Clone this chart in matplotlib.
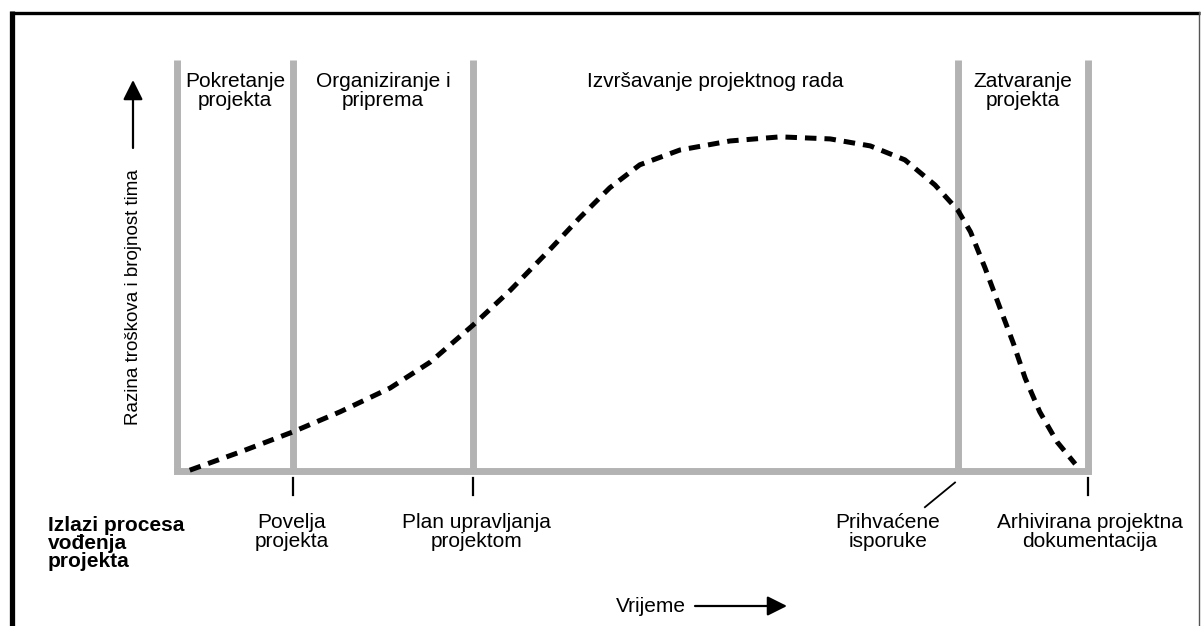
import matplotlib.pyplot as plt

# faze projekta i granice (vrijeme 0-100)
phase_names = ['Pokretanje\nprojekta', 'Organiziranje i\npriprema',
               'Izvršavanje projektnog rada', 'Zatvaranje\nprojekta']
phase_edges = [0, 12.7, 32.5, 85.7, 100]

# razina troskova i brojnost tima (ocitano sa slike)
time = [1.4, 6.9, 12.7, 17.9, 23.4, 27.8, 32.5, 36.6, 40.9, 44.2, 47.5, 50.8, 55.2,
        60.7, 66.2, 71.7, 76.1, 79.9, 83.2, 85.7, 87.1, 88.7, 90.3, 91.8, 93.1,
        94.7, 96.6, 98.6]
level = [0.2, 4.6, 9.5, 14.4, 20.2, 26.5, 35.5, 44.0, 53.8, 61.6, 68.9, 74.5, 78.1,
         80.3, 81.3, 80.8, 79.1, 75.7, 69.6, 63.5, 58.2, 49.4, 39.9, 31.1, 22.6,
         14.4, 7.1, 1.7]

# izlazi procesa
outputs = ['Povelja\nprojekta', 'Plan upravljanja\nprojektom',
           'Prihvaćene\nisporuke', 'Arhivirana projektna\ndokumentacija']
output_at = [12.7, 32.5, 85.7, 100]
output_text_x = [12.6, 32.9, 78.0, 100.2]

FONT = ['Liberation Sans', 'DejaVu Sans']
GRAY = '#b3b3b3'
W, H = 1203, 626

fig = plt.figure(figsize=(W / 100, H / 100), dpi=100)

# pozadina u pikselima: okvir, strelice, natpisi osi
bg = fig.add_axes([0, 0, 1, 1])
bg.set_xlim(0, W)
bg.set_ylim(H, 0)
bg.axis('off')
bg.plot([12, 12], [11, H], color='black', lw=3.8, solid_capstyle='butt')
bg.plot([10, 1200], [12.5, 12.5], color='black', lw=2.4, solid_capstyle='butt')
bg.plot([1199, 1199], [12, H], color='#555555', lw=1.0)

bg.annotate('', xy=(133, 80), xytext=(133, 148),
            arrowprops=dict(arrowstyle='-|>', color='black', lw=1.6,
                            mutation_scale=30, shrinkA=0, shrinkB=0))
bg.text(133, 297, 'Razina troškova i brojnost tima', rotation=90,
        ha='center', va='center', fontsize=13.5, family=FONT)

bg.text(616, 606, 'Vrijeme', ha='left', va='center', fontsize=15, family=FONT)
bg.annotate('', xy=(787, 606), xytext=(695, 606),
            arrowprops=dict(arrowstyle='-|>', color='black', lw=1.6,
                            mutation_scale=30, shrinkA=0, shrinkB=0))

bg.text(48, 516, 'Izlazi procesa\nvođenja\nprojekta', ha='left', va='top',
        fontsize=15, fontweight='bold', family=FONT, linespacing=0.92)

# glavni dijagram
left, right, top, bottom = 177, 1088, 60, 471
ax = fig.add_axes([left / W, (H - bottom) / H, (right - left) / W, (bottom - top) / H])
ax.set_xlim(0, 100)
ax.set_ylim(0, 100)
ax.axis('off')

for x in phase_edges:
    ax.plot([x, x], [0, 100], color=GRAY, lw=5, solid_capstyle='butt', clip_on=False)
ax.plot([0, 100], [0, 0], color=GRAY, lw=5, solid_capstyle='projecting', clip_on=False)

for i, name in enumerate(phase_names):
    xc = (phase_edges[i] + phase_edges[i + 1]) / 2
    ax.text(xc, 97.0, name, ha='center', va='top', fontsize=15,
            family=FONT, linespacing=0.95)

line, = ax.plot(time, level, color='black', lw=3.6, clip_on=False)
line.set_dashes([2.3, 1.6])
line.set_dash_capstyle('butt')

for i, name in enumerate(outputs):
    x0 = output_at[i]
    if i == 2:
        ax.plot([x0 - 0.3, x0 - 3.6], [-2.8, -8.8], color='black', lw=1.3, clip_on=False)
    else:
        ax.plot([x0, x0], [-1.7, -5.8], color='black', lw=1.6, clip_on=False)
    ax.text(output_text_x[i], -10.3, name, ha='center', va='top', fontsize=15,
            family=FONT, linespacing=0.95)

plt.savefig('out.png', dpi=100)
